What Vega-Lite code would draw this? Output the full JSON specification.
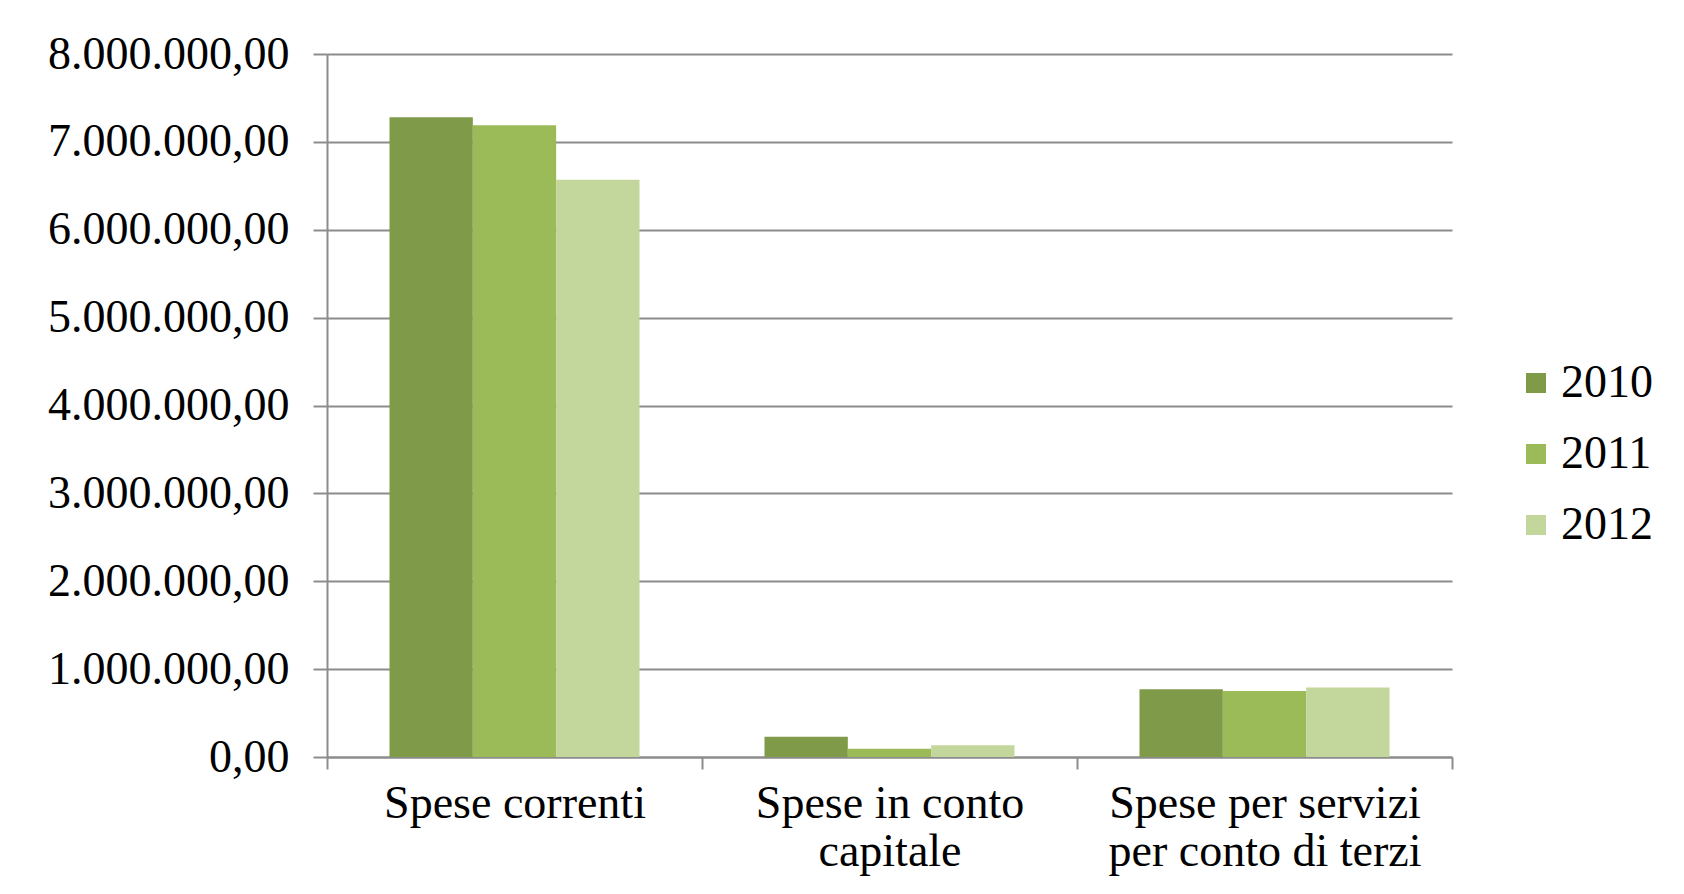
{
  "$schema": "https://vega.github.io/schema/vega-lite/v6.json",
  "autosize": "none",
  "width": 1125,
  "height": 703,
  "padding": {"left": 327, "top": 54, "right": 232, "bottom": 137},
  "background": "white",
  "config": {
    "locale": {"number": {"decimal": ",", "thousands": ".", "grouping": [3], "currency": ["€", ""]}},
    "font": "Liberation Serif",
    "view": {"stroke": null}
  },
  "data": {
    "values": [
      {"categoria": "Spese correnti", "anno": "2010", "valore": 7280000},
      {"categoria": "Spese correnti", "anno": "2011", "valore": 7190000},
      {"categoria": "Spese correnti", "anno": "2012", "valore": 6570000},
      {"categoria": "Spese in conto capitale", "anno": "2010", "valore": 230000},
      {"categoria": "Spese in conto capitale", "anno": "2011", "valore": 95000},
      {"categoria": "Spese in conto capitale", "anno": "2012", "valore": 135000},
      {"categoria": "Spese per servizi per conto di terzi", "anno": "2010", "valore": 770000},
      {"categoria": "Spese per servizi per conto di terzi", "anno": "2011", "valore": 750000},
      {"categoria": "Spese per servizi per conto di terzi", "anno": "2012", "valore": 790000}
    ]
  },
  "mark": {"type": "bar"},
  "encoding": {
    "x": {
      "field": "categoria",
      "type": "nominal",
      "sort": null,
      "scale": {"paddingInner": 0, "paddingOuter": 0},
      "axis": {
        "title": null,
        "labelAngle": 0,
        "tickBand": "extent",
        "domainColor": "#8c8c8c",
        "domainWidth": 2,
        "tickColor": "#8c8c8c",
        "tickWidth": 2,
        "tickSize": 12,
        "labelFont": "Liberation Serif",
        "labelFontSize": 46,
        "labelColor": "black",
        "labelPadding": 12,
        "labelLimit": 0,
        "labelLineHeight": 48,
        "labelBaseline": "top",
        "labelExpr": "datum.value == 'Spese in conto capitale' ? ['Spese in conto', 'capitale'] : datum.value == 'Spese per servizi per conto di terzi' ? ['Spese per servizi', 'per conto di terzi'] : datum.value"
      }
    },
    "xOffset": {
      "field": "anno",
      "type": "nominal",
      "scale": {"paddingInner": 0, "paddingOuter": 0.75}
    },
    "y": {
      "field": "valore",
      "type": "quantitative",
      "scale": {"domain": [0, 8000000], "nice": false},
      "axis": {
        "title": null,
        "values": [0, 1000000, 2000000, 3000000, 4000000, 5000000, 6000000, 7000000, 8000000],
        "format": ",.2f",
        "grid": true,
        "gridColor": "#8c8c8c",
        "gridWidth": 2,
        "domainColor": "#8c8c8c",
        "domainWidth": 2,
        "tickColor": "#8c8c8c",
        "tickWidth": 2,
        "tickSize": 14,
        "labelFont": "Liberation Serif",
        "labelFontSize": 46,
        "labelColor": "black",
        "labelPadding": 24,
        "labelLimit": 0
      }
    },
    "color": {
      "field": "anno",
      "type": "nominal",
      "scale": {"domain": ["2010", "2011", "2012"], "range": ["#7F9A48", "#9BBB59", "#C3D69B"]},
      "legend": {
        "title": null,
        "orient": "none",
        "legendX": 1186,
        "legendY": 306,
        "symbolType": "square",
        "symbolSize": 400,
        "symbolStrokeWidth": 0,
        "labelFont": "Liberation Serif",
        "labelFontSize": 46,
        "labelColor": "black",
        "labelOffset": 2,
        "rowPadding": 25
      }
    }
  }
}
